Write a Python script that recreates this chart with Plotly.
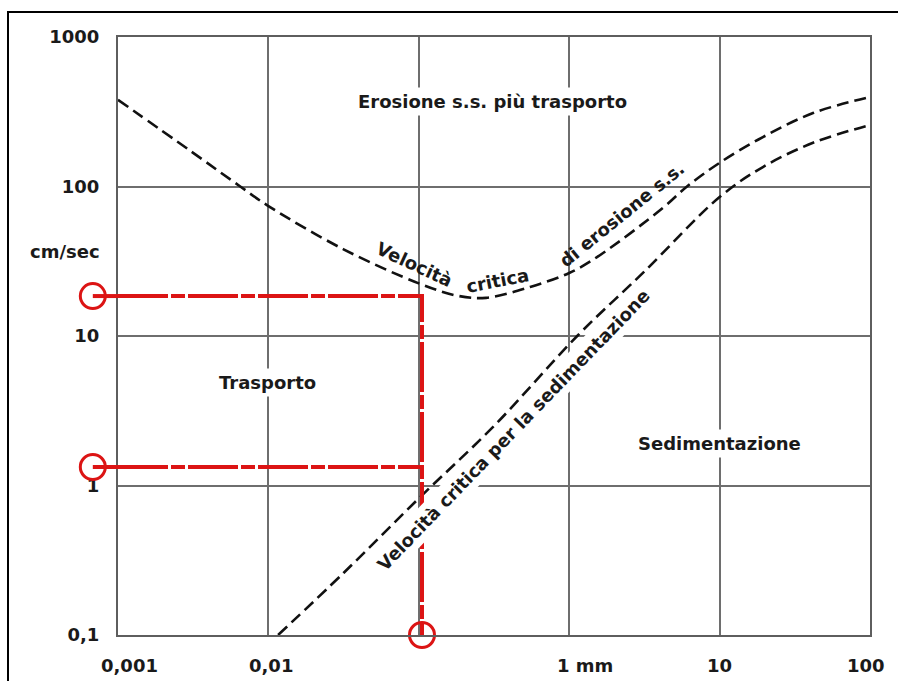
import math
import plotly.graph_objects as go

# ---------------- data ----------------
# critical erosion velocity curve (grain size mm -> cm/sec)
erosion_grain = [0.001, 0.00316, 0.0065, 0.01, 0.0316, 0.1, 0.18, 0.28, 0.55, 1, 1.53, 4.2, 6.07, 10, 19.4, 41.8, 100]
erosion_vel = [380, 168, 100, 74, 38, 22.5, 18.6, 18, 21.3, 26.4, 33.7, 72, 100, 144, 214, 310, 397]

# critical settling velocity curve
settling_grain = [0.0116, 0.0316, 0.1, 0.316, 1.13, 3.16, 10, 19.4, 41.8, 100]
settling_vel = [0.1, 0.26, 0.82, 2.5, 10, 27, 85, 135, 196, 258]

# red reading example
example_grain = 0.105
example_axis_x = 0.00068          # where the red circles sit, left of the axis
axis_min_grain = 0.001
example_erosion_vel = 18.5
example_settling_vel = 1.33
example_min_vel = 0.1

# axis ticks
y_tickvals = [0.1, 1, 10, 100, 1000]
y_ticktext = ["0,1", "1", "10", "100", "1000"]
x_gridvals = [0.001, 0.01, 0.1, 1, 10, 100]
x_tickvals = [0.001, 0.01, 1, 10, 100]
x_ticktext = ["0,001", "0,01", "1 mm", "10", "100"]
x_tick_shift = [11, 3, 16, 0, -4]
y_unit_label = "cm/sec"
y_unit_pos = 36.5

# region labels: text, grain, velocity, angle
labels_text = ["Erosione s.s. più trasporto", "Trasporto", "Sedimentazione",
               "Velocità", "critica", "di erosione s.s.",
               "Velocità critica per la sedimentazione"]
labels_grain = [0.311, 0.0099, 10, 0.094, 0.336, 2.24, 0.42]
labels_vel = [373, 4.9, 1.92, 30.3, 23.5, 64.5, 2.35]
labels_angle = [0, 0, 0, 25, -11, -39, -46]
labels_bg = [True, True, True, False, False, False, True]

# ---------------- figure ----------------
TXT = "#1a1a1a"
FONT = dict(family="DejaVu Sans", size=18, color=TXT, weight="bold")
RED = "#dc1414"
RED_DASH = "50px,3px,14px,3px"
CURVE = dict(color="#111111", width=2.6, dash="12px,6px", shape="spline", smoothing=1)

fig = go.Figure()

fig.add_trace(go.Scatter(x=erosion_grain, y=erosion_vel, mode="lines", line=CURVE,
                         showlegend=False, hoverinfo="skip"))
fig.add_trace(go.Scatter(x=settling_grain, y=settling_vel, mode="lines", line=CURVE,
                         showlegend=False, hoverinfo="skip"))

# red reading lines inside the chart
fig.add_trace(go.Scatter(
    x=[axis_min_grain, example_grain, example_grain],
    y=[example_erosion_vel, example_erosion_vel, example_min_vel],
    mode="lines", line=dict(color=RED, width=4, dash=RED_DASH),
    showlegend=False, hoverinfo="skip"))
fig.add_trace(go.Scatter(
    x=[axis_min_grain, example_grain],
    y=[example_settling_vel, example_settling_vel],
    mode="lines", line=dict(color=RED, width=4, dash=RED_DASH),
    showlegend=False, hoverinfo="skip"))
fig.add_trace(go.Scatter(
    x=[example_grain], y=[example_min_vel], mode="markers",
    marker=dict(symbol="circle-open", size=25, color=RED, line=dict(color=RED, width=3)),
    cliponaxis=False, showlegend=False, hoverinfo="skip"))

# continuation left of the axis (same log scale extended into the margin)
for v in [example_erosion_vel, example_settling_vel]:
    fig.add_trace(go.Scatter(
        x=[example_axis_x, axis_min_grain], y=[v, v], xaxis="x2", yaxis="y2",
        mode="lines", line=dict(color=RED, width=4, dash=RED_DASH),
        showlegend=False, hoverinfo="skip"))
fig.add_trace(go.Scatter(
    x=[example_axis_x, example_axis_x], y=[example_erosion_vel, example_settling_vel],
    xaxis="x2", yaxis="y2", mode="markers",
    marker=dict(symbol="circle-open", size=25, color=RED, line=dict(color=RED, width=3)),
    cliponaxis=False, showlegend=False, hoverinfo="skip"))

annotations = []
for t, gx, vy, ang, bg in zip(labels_text, labels_grain, labels_vel, labels_angle, labels_bg):
    annotations.append(dict(
        x=math.log10(gx), y=math.log10(vy), xref="x", yref="y",
        text=t, showarrow=False, textangle=ang, font=FONT,
        bgcolor="white" if bg else None, borderpad=3))

for t, gx, sh in zip(x_ticktext, x_tickvals, x_tick_shift):
    annotations.append(dict(
        x=math.log10(gx), y=0, xref="x", yref="paper", text=t, showarrow=False,
        xanchor="center", yanchor="middle", yshift=-30, xshift=sh, font=FONT))

annotations.append(dict(
    x=math.log10(axis_min_grain), y=math.log10(y_unit_pos), xref="x", yref="y",
    text=y_unit_label, showarrow=False, xanchor="right", yanchor="middle",
    xshift=-16, font=FONT))

W, H = 898, 681
L, R, T, B = 60, 28, 37, 46
pw, ph = W - L - R, H - T - B
left_gap = 58                     # pixels between paper edge and the chart's left border
px_per_decade = (pw - left_gap) / 5.0
split = left_gap / pw

GRID = dict(showgrid=True, gridcolor="#6e6e6e", gridwidth=2, showline=True,
            linecolor="#5e5e5e", linewidth=2, mirror=True, zeroline=False)

fig.update_layout(
    width=W, height=H,
    margin=dict(l=L, r=R, t=T, b=B, pad=0),
    paper_bgcolor="white", plot_bgcolor="rgba(0,0,0,0)",
    xaxis=dict(type="log", range=[-3, 2], domain=[split, 1], tickvals=x_gridvals,
               showticklabels=False, ticks="", anchor="y", **GRID),
    yaxis=dict(type="log", range=[-1, 3], tickvals=y_tickvals, ticktext=y_ticktext,
               tickfont=FONT, ticks="", ticklabelstandoff=13, anchor="x", **GRID),
    xaxis2=dict(type="log", range=[-3 - left_gap / px_per_decade, -3], domain=[0, split],
                visible=False, showgrid=False, zeroline=False, anchor="y2"),
    yaxis2=dict(type="log", range=[-1, 3], visible=False, showgrid=False,
                zeroline=False, anchor="x2"),
    annotations=annotations,
    shapes=[dict(type="rect", xref="paper", yref="paper",
                 x0=(8 - L) / pw, x1=1 + 60 / pw, y0=-80 / ph, y1=1 + (T - 12) / ph,
                 line=dict(color="black", width=2), fillcolor="rgba(0,0,0,0)")],
)

fig.write_html("out.html", config={"displayModeBar": False},
               post_script="document.body.style.margin='0';")
